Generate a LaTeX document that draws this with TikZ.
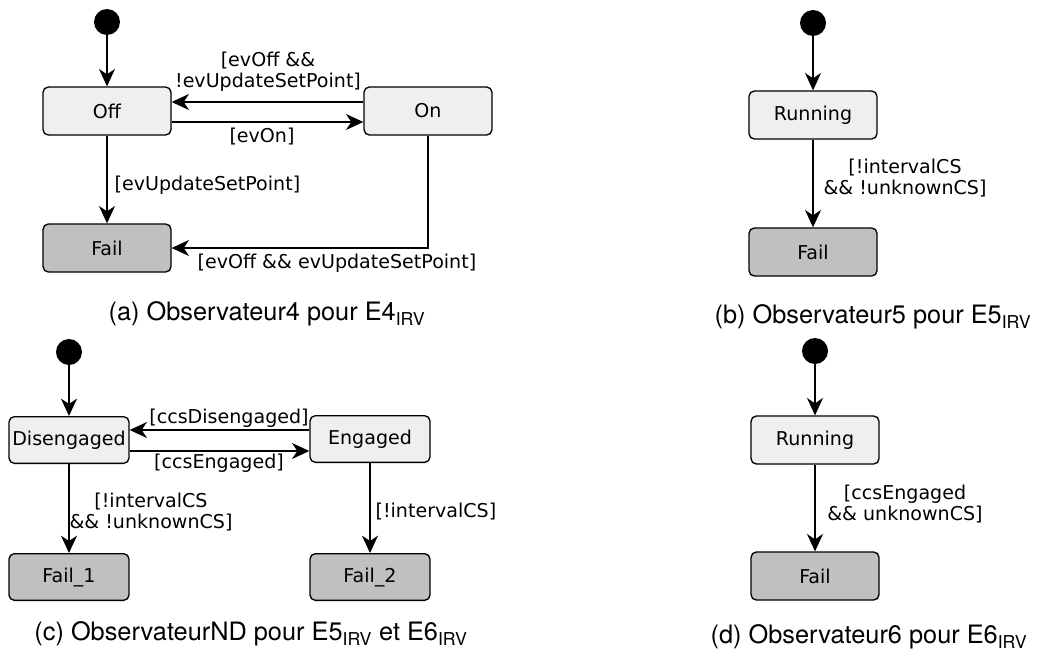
\documentclass[tikz,border=0pt]{standalone}
\usepackage{fontspec}
\setmainfont{DejaVu Sans}
\newfontfamily\capfont{TeX Gyre Heros}
\usepackage{tikz}
\usetikzlibrary{arrows.meta, positioning}
\definecolor{stategray}{HTML}{EFEFEF}
\definecolor{failgray}{HTML}{C0C0C0}
\newcommand\lblfont{\fontsize{14.3}{15.8}\selectfont}
\newcommand\capsize{\fontsize{19}{22}\selectfont\capfont}
\tikzset{
  st/.style={draw=black, fill=#1, rounded corners=4pt, line width=1pt,
             minimum width=96pt, minimum height=36pt, font=\lblfont, inner sep=2pt},
  st/.default=stategray,
  fl/.style={st=failgray},
  init/.style={circle, fill=black, minimum size=19.5pt, inner sep=0pt},
  tr/.style={-{Stealth[length=13pt, width=12pt, inset=4pt]}, line width=1pt},
  lbl/.style={font=\lblfont, align=center, inner sep=1pt},
  subcap/.style={font=\capsize, inner sep=0pt},
}
\begin{document}
\begin{tikzpicture}[x=0.75pt, y=-0.75pt]
  \useasboundingbox (0,0) rectangle (1037,653);
  % (a) Observateur4
  \node[init] (inita) at (107,22) {};
  \node[st] (offst) at (107,111) {Off};
  \node[st] (onst) at (428,111) {On};
  \node[fl] (faila) at (107,248) {Fail};
  \draw[tr] (inita) -- (offst);
  \draw[tr] ([yshift=6.75pt]onst.west) -- ([yshift=6.75pt]onst.west -| offst.east);
  \draw[tr] ([yshift=-8.25pt]offst.east) -- ([yshift=-8.25pt]offst.east -| onst.west);
  \draw[tr] (offst) -- (faila);
  \draw[tr] (onst.south) |- (faila.east);
  \node[lbl] at (268,72) {[evOff \&\&\\!evUpdateSetPoint]};
  \node[lbl] at (262,137) {[evOn]};
  \node[lbl, anchor=west] at (113,185) {[evUpdateSetPoint]};
  \node[lbl, anchor=west] at (196,263) {[evOff \&\& evUpdateSetPoint]};
  % (b) Observateur5
  \node[init] (initb) at (813,23) {};
  \node[st] (runb) at (813,115) {Running};
  \node[fl] (failb) at (813,252) {Fail};
  \draw[tr] (initb) -- (runb);
  \draw[tr] (runb) -- (failb);
  \node[lbl] at (905,178) {[!intervalCS\\\&\& !unknownCS]};
  % (c) ObservateurND
  \node[init] (initc) at (69,352) {};
  \node[st, minimum width=90pt, minimum height=35pt] (diseng) at (69,440) {Disengaged};
  \node[st, minimum width=90pt, minimum height=35pt] (eng) at (370,439) {Engaged};
  \node[fl, minimum width=90pt, minimum height=35pt] (failone) at (69,577) {Fail\_1};
  \node[fl, minimum width=90pt, minimum height=35pt] (failtwo) at (370,577) {Fail\_2};
  \draw[tr] (initc) -- (diseng);
  \draw[tr] ([yshift=6.75pt]eng.west) -- ([yshift=6.75pt]eng.west -| diseng.east);
  \draw[tr] ([yshift=-8.25pt]diseng.east) -- ([yshift=-8.25pt]diseng.east -| eng.west);
  \draw[tr] (diseng) -- (failone);
  \draw[tr] (eng) -- (failtwo);
  \node[lbl] at (229,418) {[ccsDisengaged]};
  \node[lbl] at (219,463) {[ccsEngaged]};
  \node[lbl] at (151,512) {[!intervalCS\\\&\& !unknownCS]};
  \node[lbl, anchor=west] at (374,512) {[!intervalCS]};
  % (d) Observateur6
  \node[init] (initd) at (815,351) {};
  \node[st] (rund) at (815,440) {Running};
  \node[fl] (faild) at (815,576) {Fail};
  \draw[tr] (initd) -- (rund);
  \draw[tr] (rund) -- (faild);
  \node[lbl] at (905,504) {[ccsEngaged\\\&\& unknownCS]};
  % captions
  \node[subcap] (capa) at (267,314) {(a) Observateur4 pour E4\textsubscript{IRV}};
  \node[subcap] (capb) at (873,317) {(b) Observateur5 pour E5\textsubscript{IRV}};
  \node[subcap] (capc) at (251,634) {(c) ObservateurND pour E5\textsubscript{IRV} et E6\textsubscript{IRV}};
  \node[subcap] (capd) at (869,637) {(d) Observateur6 pour E6\textsubscript{IRV}};
\end{tikzpicture}
\end{document}
